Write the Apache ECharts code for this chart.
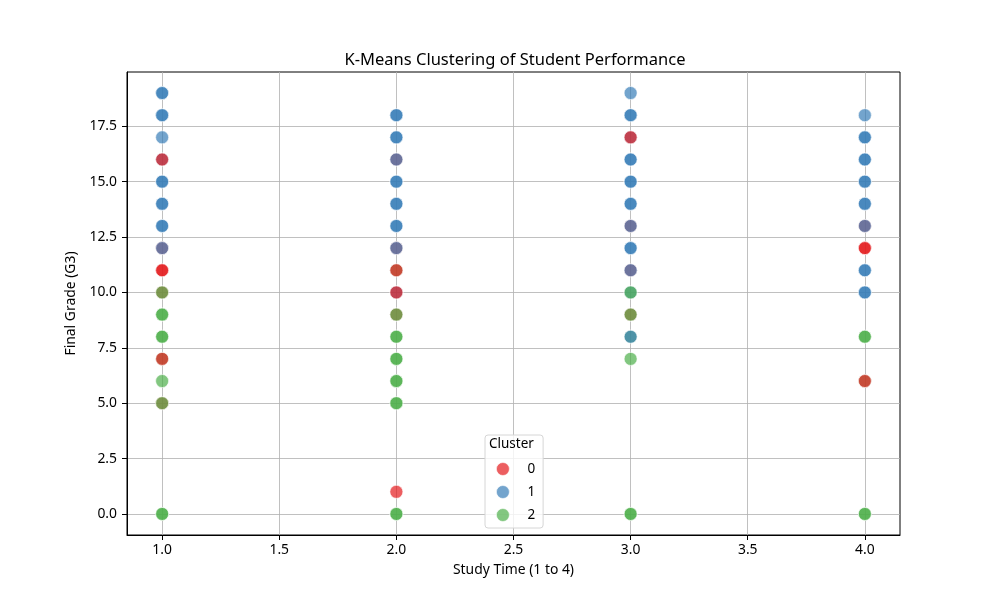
<!DOCTYPE html>
<html><head><meta charset="utf-8">
<script src="https://cdn.jsdelivr.net/npm/echarts@6/dist/echarts.min.js"></script>
<style>html,body{margin:0;padding:0;background:#fff}#c{width:1000px;height:600px}</style>
</head><body><div id="c"></div>
<script>
// Points in drawing order (later points are painted over earlier ones)
const studyTime = [
  3,1,2,4,
  1,1,1,2,2,2,3,3,3,4,
  1,1,1,1,1,1,1,1,1,1,1,1,1,
  2,2,2,2,2,2,2,2,2,2,2,2,2,
  3,3,3,3,3,3,3,3,3,3,3,3,3,3,3,3,
  4,4,4,4,4,4,4,4,4,4,4,4,4,4,
  1,1,1,1,1,1,1,1,1,
  2,2,2,2,2,2,2,2,2,2,2,
  3,3,3,3,3,
  4,4,4,4,
  1,2,3,1,2,4,1,1,2,4,4
];
const finalGrade = [
  8,7,11,6,
  12,10,5,16,12,9,13,11,9,13,
  19,19,18,18,17,16,15,15,14,14,13,13,12,
  18,18,17,17,16,15,15,14,14,13,13,12,10,
  19,18,18,17,16,16,15,15,14,14,13,12,12,11,10,8,
  18,17,17,16,16,15,15,14,14,13,11,11,10,10,
  10,9,9,8,8,6,5,0,0,
  9,8,8,7,7,6,6,5,5,0,0,
  10,9,7,0,0,
  8,8,0,0,
  16,10,17,7,11,6,11,11,1,12,12
];
const cluster = [
  2,2,2,2,
  0,0,0,0,0,0,0,0,0,0,
  1,1,1,1,1,1,1,1,1,1,1,1,1,
  1,1,1,1,1,1,1,1,1,1,1,1,1,
  1,1,1,1,1,1,1,1,1,1,1,1,1,1,1,1,
  1,1,1,1,1,1,1,1,1,1,1,1,1,1,
  2,2,2,2,2,2,2,2,2,
  2,2,2,2,2,2,2,2,2,2,2,
  2,2,2,2,2,
  2,2,2,2,
  0,0,0,0,0,0,0,0,0,0,0
];
const clusterNames = ['0','1','2'];
const xTicks = [1.0,1.5,2.0,2.5,3.0,3.5,4.0];
const yTicks = [0,2.5,5,7.5,10,12.5,15,17.5];

const palette = ['#e41a1c','#377eb8','#4daf4a'];
const FONT = 'Noto Sans';
const chart = echarts.init(document.getElementById('c'));

const series = [];
let i = 0;
while (i < cluster.length) {
  const c = cluster[i]; const pts = [];
  while (i < cluster.length && cluster[i] === c) { pts.push([studyTime[i], finalGrade[i]]); i++; }
  series.push({
    type:'scatter', name:clusterNames[c], data:pts, symbolSize:13, z:3,
    itemStyle:{color:palette[c], opacity:0.7, borderColor:'#fff', borderWidth:0.8},
    emphasis:{disabled:true}
  });
}

chart.setOption({
  animation:false,
  backgroundColor:'#fff',
  textStyle:{fontFamily:FONT},
  title:{text:'K-Means Clustering of Student Performance', left:510, top:47, textAlign:'center',
    textStyle:{fontFamily:FONT, fontSize:16.5, fontWeight:'normal', color:'#000'}},
  grid:{left:127, right:100, top:72, bottom:65, show:true, borderColor:'#000', borderWidth:1, backgroundColor:'transparent'},
  xAxis:{type:'value', min:0.85, max:4.15, name:'Study Time (1 to 4)', nameLocation:'middle', nameGap:28,
    nameTextStyle:{fontFamily:FONT, fontSize:13.9, color:'#000'},
    axisLine:{show:true, onZero:false, lineStyle:{color:'#000', width:1}},
    axisTick:{show:true, customValues:xTicks, length:5, lineStyle:{color:'#000'}},
    axisLabel:{customValues:xTicks, formatter:v=>v.toFixed(1), fontFamily:FONT, fontSize:13.9, color:'#000', margin:8},
    splitLine:{show:true, lineStyle:{color:'#b0b0b0', width:0.8}}},
  yAxis:{type:'value', min:-0.95, max:19.95, name:'Final Grade (G3)', nameLocation:'middle', nameGap:46,
    nameTextStyle:{fontFamily:FONT, fontSize:13.9, color:'#000'},
    axisLine:{show:true, onZero:false, lineStyle:{color:'#000', width:1}},
    axisTick:{show:true, customValues:yTicks, length:5, lineStyle:{color:'#000'}},
    axisLabel:{customValues:yTicks, formatter:v=>v.toFixed(1), fontFamily:FONT, fontSize:13.9, color:'#000', margin:10},
    splitLine:{show:true, lineStyle:{color:'#b0b0b0', width:0.8}}},
  legend:{data:clusterNames, orient:'vertical', left:485, top:435, padding:[27,8,6,11], itemGap:9,
    itemWidth:13, itemHeight:13, icon:'circle',
    itemStyle:{opacity:0.7, borderColor:'#fff', borderWidth:0.8},
    backgroundColor:'rgba(255,255,255,0.8)', borderColor:'#d6d6d6', borderWidth:1, borderRadius:3,
    textStyle:{fontFamily:FONT, fontSize:13.5, color:'#000', padding:[0,0,0,13]}},
  graphic:[{type:'text', left:489, top:437, z:10,
    style:{text:'Cluster', font:'13.5px "Noto Sans"', fill:'#000'}}],
  series:series
});
</script></body></html>
